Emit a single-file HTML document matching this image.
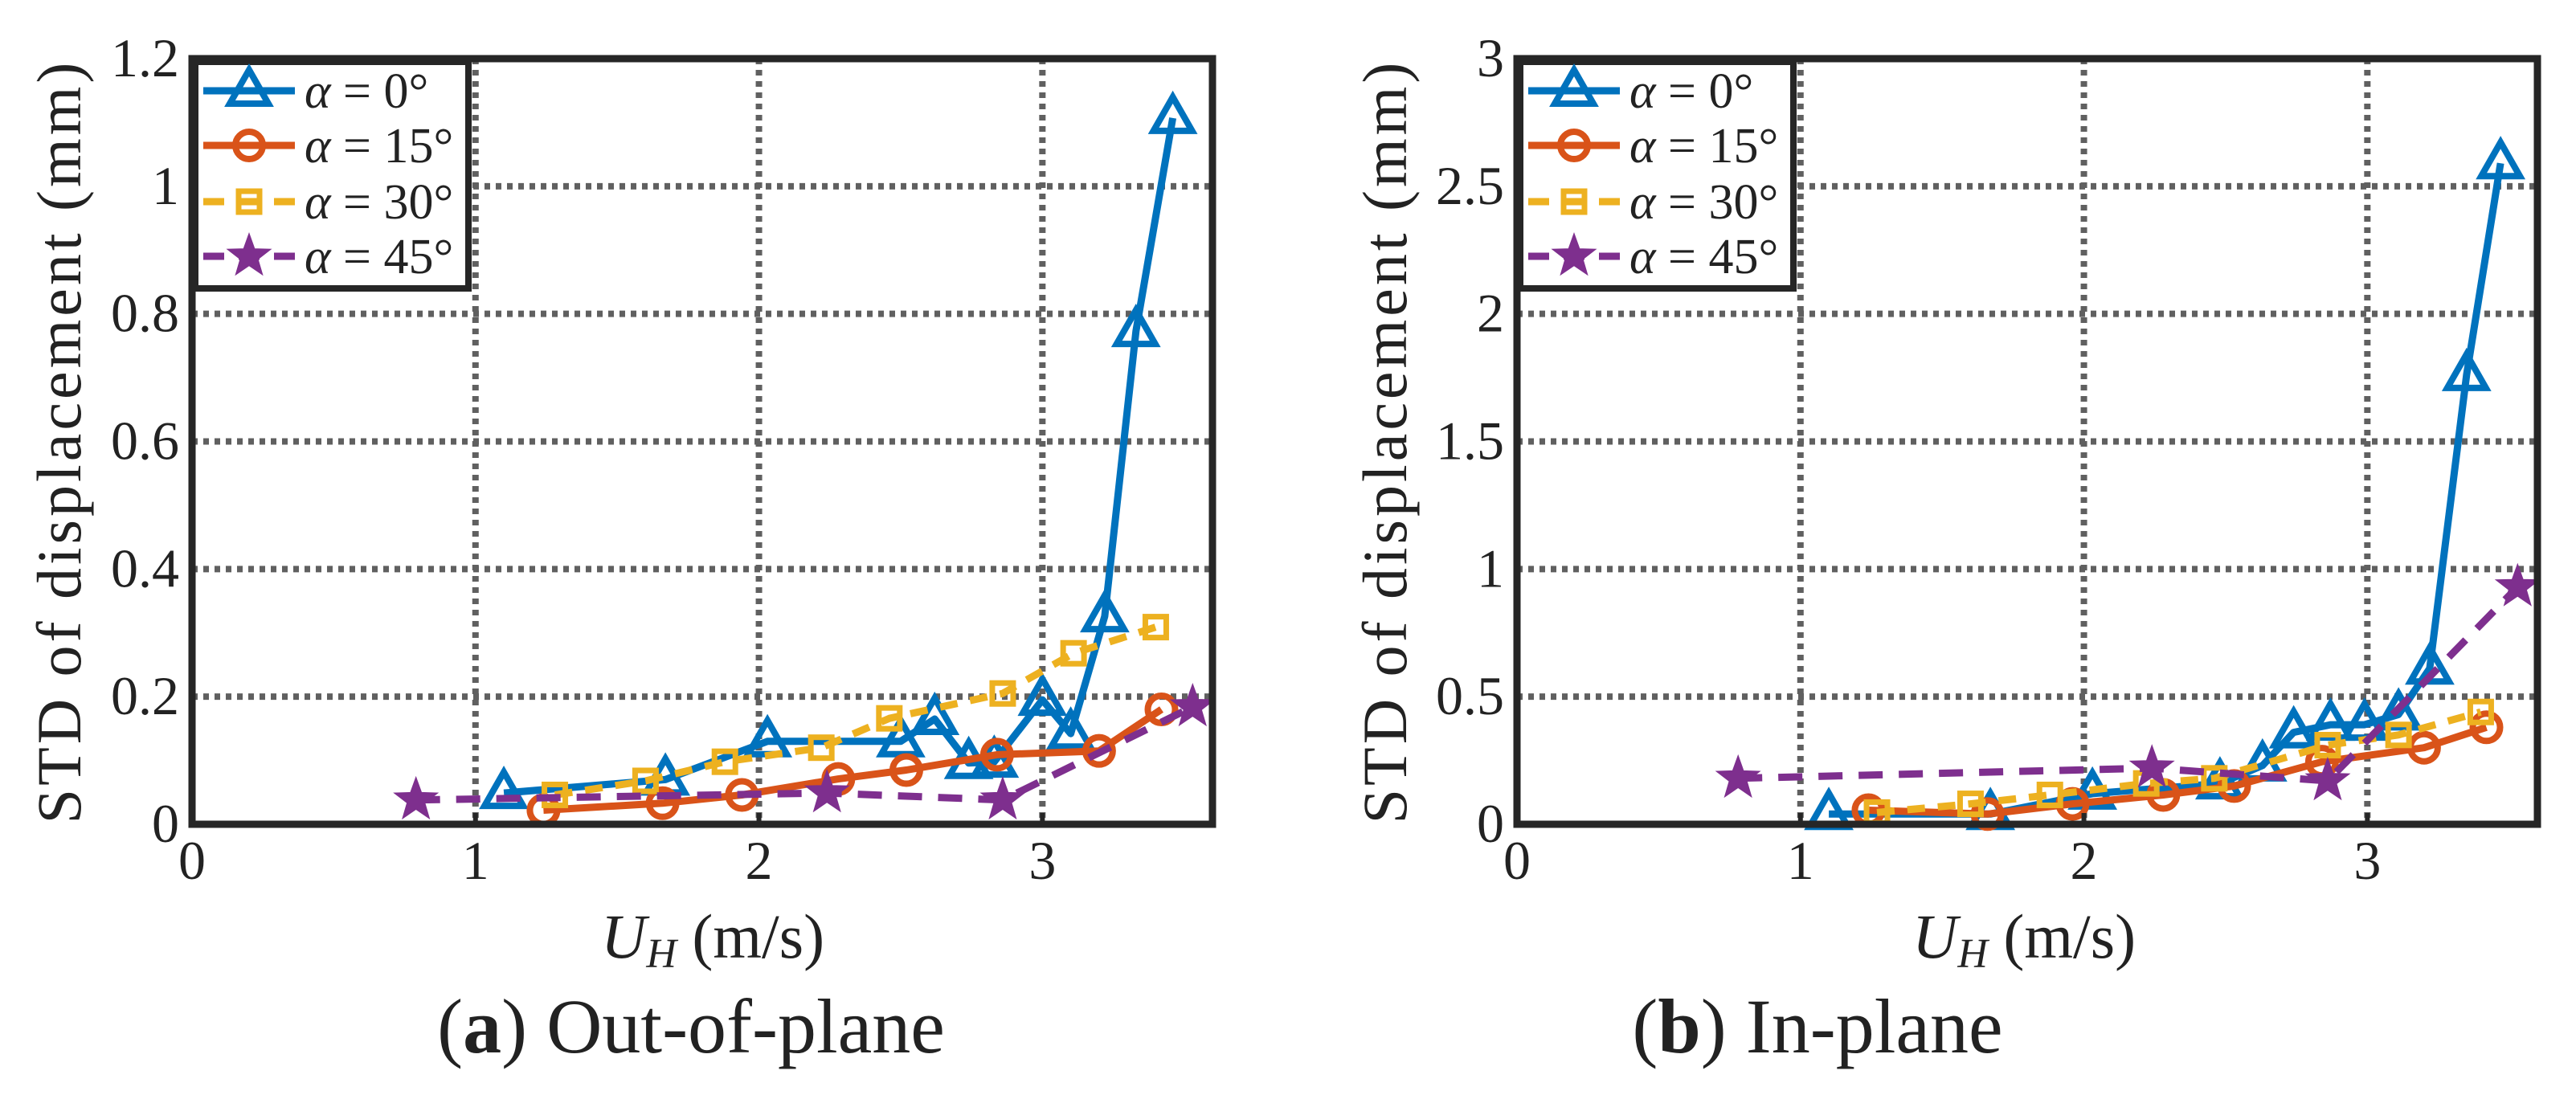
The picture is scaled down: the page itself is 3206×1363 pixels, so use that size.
<!DOCTYPE html>
<html><head><meta charset="utf-8"><style>
html,body{margin:0;padding:0;background:#fff;}
svg{display:block;}
text{font-family:"Liberation Serif",serif;fill:#222;}
</style></head><body>
<svg id="fig" width="3206" height="1363" viewBox="0 0 3206 1363" xmlns="http://www.w3.org/2000/svg"></svg>
<script>
// ---- data ----
const seriesNames = ["α = 0°","α = 15°","α = 30°","α = 45°"];
// panel a (out-of-plane)
const a0x = [1.10,1.67,2.03,2.50,2.62,2.74,2.83,3.00,3.10,3.22,3.33,3.46];
const a0y = [0.049,0.070,0.130,0.130,0.165,0.096,0.098,0.195,0.142,0.326,0.773,1.107];
const a15x = [1.24,1.66,1.94,2.28,2.52,2.84,3.20,3.42];
const a15y = [0.022,0.033,0.046,0.071,0.085,0.109,0.115,0.180];
const a30x = [1.28,1.60,1.88,2.22,2.46,2.86,3.11,3.40];
const a30y = [0.046,0.068,0.098,0.120,0.166,0.205,0.268,0.309];
const a45x = [0.79,2.24,2.86,3.53];
const a45y = [0.038,0.049,0.038,0.184];
// panel b (in-plane)
const b0x = [1.10,1.67,2.03,2.48,2.63,2.74,2.87,2.99,3.11,3.22,3.35,3.47];
const b0y = [0.04,0.04,0.12,0.16,0.23,0.36,0.39,0.39,0.43,0.61,1.76,2.59];
const b15x = [1.24,1.66,1.96,2.28,2.53,2.84,3.20,3.42];
const b15y = [0.055,0.04,0.08,0.115,0.15,0.245,0.30,0.38];
const b30x = [1.27,1.60,1.88,2.22,2.46,2.86,3.11,3.40];
const b30y = [0.046,0.08,0.115,0.16,0.18,0.31,0.35,0.44];
const b45x = [0.78,2.24,2.86,3.53];
const b45y = [0.18,0.22,0.17,0.93];
const xTicks = [0,1,2,3];
const aYTicks = [0,0.2,0.4,0.6,0.8,1,1.2];
const bYTicks = [0,0.5,1,1.5,2,2.5,3];

const NS="http://www.w3.org/2000/svg";
const svg=document.getElementById('fig');
function mk(tag,attrs,parent){const e=document.createElementNS(NS,tag);for(const k in attrs)e.setAttribute(k,attrs[k]);(parent||svg).appendChild(e);return e;}
const colors=["#0072BD","#D95319","#EDB120","#7E2F8E"];
const dashes=["none","none","22,16","30,20"];
const markers=["tri","circ","sq","star"];

function marker(g,type,x,y,c){
  let e;
  if(type==="tri"){e=mk('polygon',{points:`${x},${y-26} ${x+24},${y+16} ${x-24},${y+16}`,fill:'none',stroke:c,'stroke-width':8},g);}
  else if(type==="circ"){e=mk('circle',{cx:x,cy:y,r:17,fill:'none',stroke:c,'stroke-width':8},g);}
  else if(type==="sq"){e=mk('rect',{x:x-13,y:y-13,width:26,height:26,fill:'none',stroke:c,'stroke-width':7},g);}
  else {let p=[];for(let i=0;i<10;i++){const r=i%2?11:27;const a=-Math.PI/2+i*Math.PI/5;p.push((x+r*Math.cos(a)).toFixed(1)+','+(y+r*Math.sin(a)).toFixed(1));}
    e=mk('polygon',{points:p.join(' '),fill:c,stroke:c,'stroke-width':2},g);}
  
  
}

function panel(id,L,R,T,B,xmax,ymax,yTicks,xs,ys,ylabelX,caption,capX,capBold,xlStart){
  const g=mk('g',{});
  
  
  const sx=v=>L+(R-L)*v/xmax, sy=v=>B-(B-T)*v/ymax;
  xTicks.forEach(t=>{if(t>0){const l=mk('line',{x1:sx(t),x2:sx(t),y1:T,y2:B,stroke:'#606060','stroke-width':8,'stroke-dasharray':'7,7'},g);
    }});
  yTicks.forEach(t=>{if(t>0&&t<ymax){const l=mk('line',{x1:L,x2:R,y1:sy(t),y2:sy(t),stroke:'#606060','stroke-width':8,'stroke-dasharray':'7,7'},g);
    }});
  for(let s=0;s<4;s++){
    const pts=xs[s].map((v,i)=>sx(v).toFixed(1)+','+sy(ys[s][i]).toFixed(1)).join(' ');
    const pl=mk('polyline',{points:pts,fill:'none',stroke:colors[s],'stroke-width':9,'stroke-dasharray':dashes[s],'stroke-linejoin':'round'},g);
    
    
    xs[s].forEach((v,i)=>marker(g,markers[s],sx(v),sy(ys[s][i]),colors[s]));
  }
  xTicks.forEach(t=>{const tx=mk('text',{x:sx(t),y:1094,'font-size':68,'text-anchor':'middle'},g);tx.textContent=t;
    
    mk('line',{x1:sx(t),x2:sx(t),y1:B,y2:B-14,stroke:'#262626','stroke-width':6},g);});
  yTicks.forEach(t=>{const tx=mk('text',{x:L-16,y:sy(t)+22,'font-size':68,'text-anchor':'end'},g);tx.textContent=t;
    });
  const f=mk('rect',{x:L,y:T,width:R-L,height:B-T,fill:'none',stroke:'#262626','stroke-width':9},g);
  
  const lg=mk('g',{},g);
  
  
  mk('rect',{x:L+4,y:T+4,width:340,height:282,fill:'#fff',stroke:'#262626','stroke-width':8},lg);
  const rows=[113,181,251,319];
  for(let s=0;s<4;s++){
    const e=mk('g',{},lg);
    
    
    mk('line',{x1:L+14,x2:L+128,y1:rows[s],y2:rows[s],stroke:colors[s],'stroke-width':9,'stroke-dasharray':s>=2?'26,18':'none'},e);
    marker(e,markers[s],L+71,rows[s],colors[s]);
    const t=mk('text',{x:L+140,y:rows[s]+21,'font-size':62},e);
    t.innerHTML='<tspan font-style="italic">α</tspan> = '+seriesNames[s].split('= ')[1];
  }
  const yl=mk('text',{x:ylabelX,y:(T+B)/2,'font-size':78,'letter-spacing':4,'text-anchor':'middle',transform:`rotate(-90 ${ylabelX} ${(T+B)/2})`},g);
  yl.textContent='STD of displacement (mm)';
  
  const xl=mk('text',{x:xlStart,y:1192,'font-size':78},g);
  xl.innerHTML='<tspan font-style="italic">U</tspan><tspan font-style="italic" font-size="52" dy="12">H</tspan><tspan dy="-12"> (m/s)</tspan>';
  
  const cp=mk('text',{x:capX,y:1310,'font-size':96,'text-anchor':'middle',fill:'#000'},g);
  cp.innerHTML='(<tspan font-weight="bold">'+capBold+'</tspan>) '+caption;
  
}
panel('a',239,1509,73,1026,3.6,1.2,aYTicks,[a0x,a15x,a30x,a45x],[a0y,a15y,a30y,a45y],100,'Out-of-plane',860,'a',748);
panel('b',1888,3158,73,1026,3.6,3,bYTicks,[b0x,b15x,b30x,b45x],[b0y,b15y,b30y,b45y],1750,'In-plane',2262,'b',2380);
</script>
</body></html>
